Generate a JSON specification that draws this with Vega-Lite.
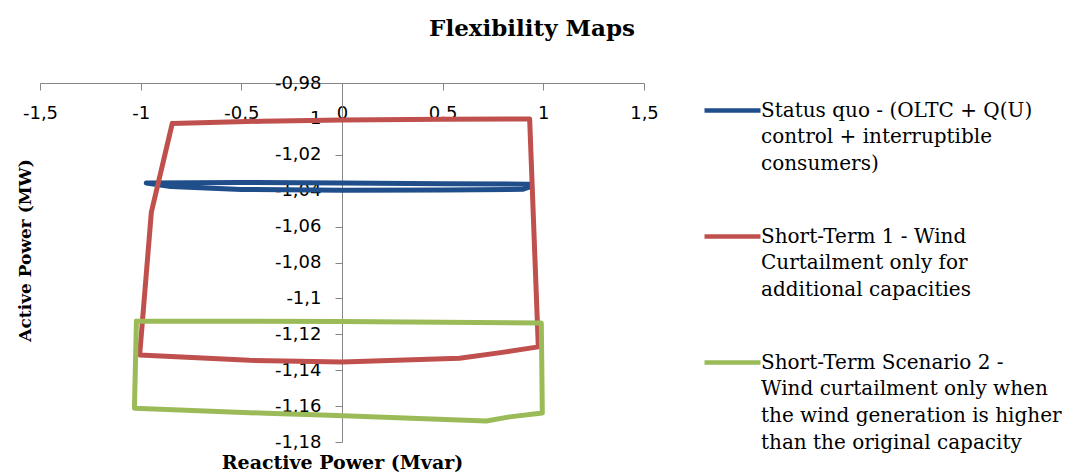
{
  "$schema": "https://vega.github.io/schema/vega-lite/v6.json",
  "width": 604,
  "height": 359,
  "autosize": "none",
  "padding": {"left": 40, "top": 83, "right": 424, "bottom": 34},
  "title": {
    "text": "Flexibility Maps",
    "font": "DejaVu Serif",
    "fontSize": 23,
    "fontWeight": "bold",
    "color": "#000000",
    "frame": "group",
    "anchor": "middle",
    "dx": 190,
    "offset": 33
  },
  "config": {
    "view": {"stroke": null},
    "style": {"guide-label": {"lineHeight": 26.7}}
  },
  "data": {
    "values": [
      {"series": "Status quo", "i": 1, "q": -0.972, "p": -1.0357},
      {"series": "Status quo", "i": 2, "q": -0.5, "p": -1.0354},
      {"series": "Status quo", "i": 3, "q": 0, "p": -1.0357},
      {"series": "Status quo", "i": 4, "q": 0.5, "p": -1.0361},
      {"series": "Status quo", "i": 5, "q": 0.93, "p": -1.0364},
      {"series": "Status quo", "i": 6, "q": 0.936, "p": -1.0377},
      {"series": "Status quo", "i": 7, "q": 0.9, "p": -1.0392},
      {"series": "Status quo", "i": 8, "q": 0.5, "p": -1.0396},
      {"series": "Status quo", "i": 9, "q": 0, "p": -1.0397},
      {"series": "Status quo", "i": 10, "q": -0.5, "p": -1.0393},
      {"series": "Status quo", "i": 11, "q": -0.85, "p": -1.0377},
      {"series": "Status quo", "i": 12, "q": -0.972, "p": -1.0357},
      {"series": "Short-Term 1", "i": 1, "q": -0.843, "p": -1.0025},
      {"series": "Short-Term 1", "i": 2, "q": -0.4, "p": -1.0013},
      {"series": "Short-Term 1", "i": 3, "q": 0, "p": -1.0006},
      {"series": "Short-Term 1", "i": 4, "q": 0.5, "p": -1.0002},
      {"series": "Short-Term 1", "i": 5, "q": 0.932, "p": -1.0},
      {"series": "Short-Term 1", "i": 6, "q": 0.975, "p": -1.127},
      {"series": "Short-Term 1", "i": 7, "q": 0.77, "p": -1.1305},
      {"series": "Short-Term 1", "i": 8, "q": 0.584, "p": -1.1333},
      {"series": "Short-Term 1", "i": 9, "q": 0, "p": -1.1355},
      {"series": "Short-Term 1", "i": 10, "q": -0.46, "p": -1.1345},
      {"series": "Short-Term 1", "i": 11, "q": -1.005, "p": -1.1315},
      {"series": "Short-Term 1", "i": 12, "q": -0.947, "p": -1.052},
      {"series": "Short-Term 1", "i": 13, "q": -0.843, "p": -1.0025},
      {"series": "Short-Term Scenario 2", "i": 1, "q": -1.021, "p": -1.1126},
      {"series": "Short-Term Scenario 2", "i": 2, "q": 0, "p": -1.1128},
      {"series": "Short-Term Scenario 2", "i": 3, "q": 0.99, "p": -1.1137},
      {"series": "Short-Term Scenario 2", "i": 4, "q": 0.995, "p": -1.1638},
      {"series": "Short-Term Scenario 2", "i": 5, "q": 0.833, "p": -1.166},
      {"series": "Short-Term Scenario 2", "i": 6, "q": 0.717, "p": -1.1683},
      {"series": "Short-Term Scenario 2", "i": 7, "q": -0.062, "p": -1.1651},
      {"series": "Short-Term Scenario 2", "i": 8, "q": -0.376, "p": -1.164},
      {"series": "Short-Term Scenario 2", "i": 9, "q": -1.031, "p": -1.1612},
      {"series": "Short-Term Scenario 2", "i": 10, "q": -1.021, "p": -1.1126}
    ]
  },
  "mark": {"type": "line", "strokeWidth": 5, "strokeJoin": "round", "strokeCap": "round"},
  "encoding": {
    "x": {
      "field": "q",
      "type": "quantitative",
      "title": "Reactive Power (Mvar)",
      "scale": {"domain": [-1.5, 1.5], "nice": false, "zero": false},
      "axis": {
        "orient": "bottom",
        "offset": -359,
        "values": [-1.5, -1, -0.5, 0, 0.5, 1, 1.5],
        "labelExpr": "replace(toString(datum.value), '.', ',')",
        "grid": false,
        "domainColor": "#868686",
        "tickColor": "#868686",
        "tickSize": 7,
        "labelFont": "DejaVu Sans",
        "labelFontSize": 18,
        "labelColor": "#000000",
        "labelPadding": 14,
        "labelFlush": false,
        "titleFont": "DejaVu Serif",
        "titleFontSize": 19,
        "titleFontWeight": "bold",
        "titleColor": "#000000",
        "titleY": 379,
        "titleBaseline": "middle"
      }
    },
    "y": {
      "field": "p",
      "type": "quantitative",
      "title": "Active Power (MW)",
      "scale": {"domain": [-1.18, -0.98], "nice": false, "zero": false},
      "axis": {
        "orient": "left",
        "offset": -302,
        "values": [-0.98, -1, -1.02, -1.04, -1.06, -1.08, -1.1, -1.12, -1.14, -1.16, -1.18],
        "labelExpr": "replace(toString(datum.value), '.', ',')",
        "grid": false,
        "domainColor": "#868686",
        "tickColor": "#868686",
        "tickSize": 7,
        "labelFont": "DejaVu Sans",
        "labelFontSize": 18,
        "labelColor": "#000000",
        "labelPadding": 14,
        "labelFlush": false,
        "labelOverlap": false,
        "titleFont": "DejaVu Serif",
        "titleFontSize": 17,
        "titleFontWeight": "bold",
        "titleColor": "#000000",
        "titleX": -317,
        "titleY": 167,
        "titleBaseline": "middle",
        "titleAlign": "center",
        "titleAngle": -90
      }
    },
    "color": {
      "field": "series",
      "type": "nominal",
      "scale": {
        "domain": ["Status quo", "Short-Term 1", "Short-Term Scenario 2"],
        "range": ["#1F4E8A", "#C0504D", "#9BBB59"]
      },
      "legend": {
        "title": null,
        "orient": "none",
        "legendX": 662,
        "legendY": -3,
        "padding": 0,
        "symbolType": "stroke",
        "symbolSize": 3136,
        "symbolStrokeWidth": 4.5,
        "labelFont": "DejaVu Serif",
        "labelFontSize": 20,
        "labelColor": "#000000",
        "labelBaseline": "middle",
        "labelOffset": -2,
        "labelLimit": 400,
        "rowPadding": 32,
        "labelExpr": "datum.label == 'Status quo' ? ['Status quo - (OLTC + Q(U)', 'control + interruptible', 'consumers)'] : datum.label == 'Short-Term 1' ? ['Short-Term 1 - Wind', 'Curtailment only for', 'additional capacities'] : ['Short-Term Scenario 2 -', 'Wind curtailment only when', 'the wind generation is higher', 'than the original capacity']"
      }
    },
    "detail": {"field": "series"},
    "order": {"field": "i", "type": "quantitative"}
  }
}
